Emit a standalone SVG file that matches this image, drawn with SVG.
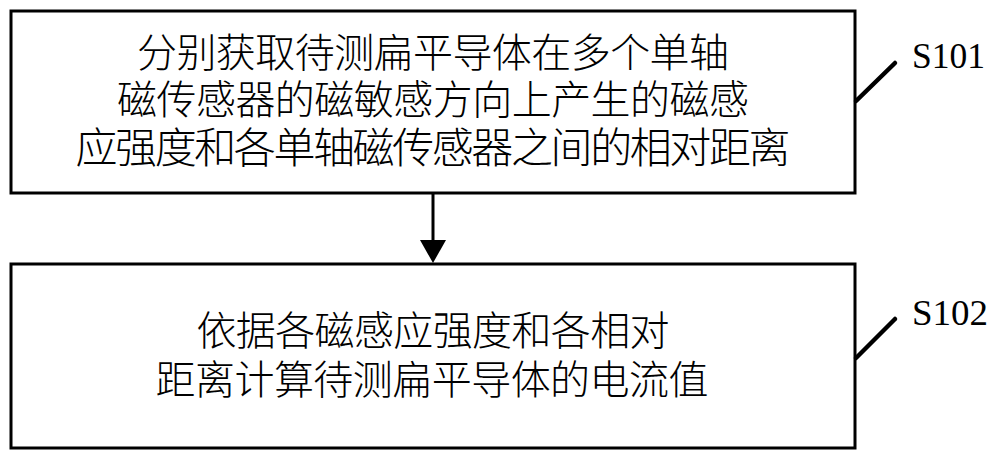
<svg xmlns="http://www.w3.org/2000/svg" width="1000" height="460" viewBox="0 0 1000 460">
<style>
.box{fill:#fff;stroke:#000;stroke-width:3}
.cn{font-family:"Noto Sans CJK SC","Noto Sans CJK TC",sans-serif;font-size:40px;font-weight:300;fill:#000;text-anchor:middle}
.lbl{font-family:"Liberation Serif",serif;font-size:36px;fill:#000}
.lead{stroke:#000;stroke-width:4.5;stroke-linecap:round}
.conn{stroke:#000;stroke-width:3}
</style>
<rect width="1000" height="460" fill="#fff"/>
<g id="node-s101">
<rect class="box" x="11" y="11" width="844" height="182"/>
<text class="cn" x="433" y="67" textLength="592" lengthAdjust="spacing">分别获取待测扁平导体在多个单轴</text>
<text class="cn" x="433" y="114" textLength="632" lengthAdjust="spacing">磁传感器的磁敏感方向上产生的磁感</text>
<text class="cn" x="433" y="163" style="font-size:42px" textLength="715" lengthAdjust="spacing">应强度和各单轴磁传感器之间的相对距离</text>
</g>
<g id="node-s102">
<rect class="box" x="11" y="264" width="844" height="184"/>
<text class="cn" x="433" y="345" textLength="473" lengthAdjust="spacing">依据各磁感应强度和各相对</text>
<text class="cn" x="432" y="394" textLength="553" lengthAdjust="spacing">距离计算待测扁平导体的电流值</text>
</g>
<g id="label-s101">
<line class="lead" x1="856" y1="101" x2="895" y2="63"/>
<text class="lbl" x="912" y="68" textLength="73" lengthAdjust="spacingAndGlyphs">S101</text>
</g>
<g id="label-s102">
<line class="lead" x1="856" y1="358" x2="895" y2="319"/>
<text class="lbl" x="912" y="325" textLength="76" lengthAdjust="spacingAndGlyphs">S102</text>
</g>
<g id="connectors">
<line class="conn" x1="433" y1="193" x2="433" y2="242"/>
<polygon points="420,240 446,240 433,263" fill="#000"/>
</g>
</svg>
